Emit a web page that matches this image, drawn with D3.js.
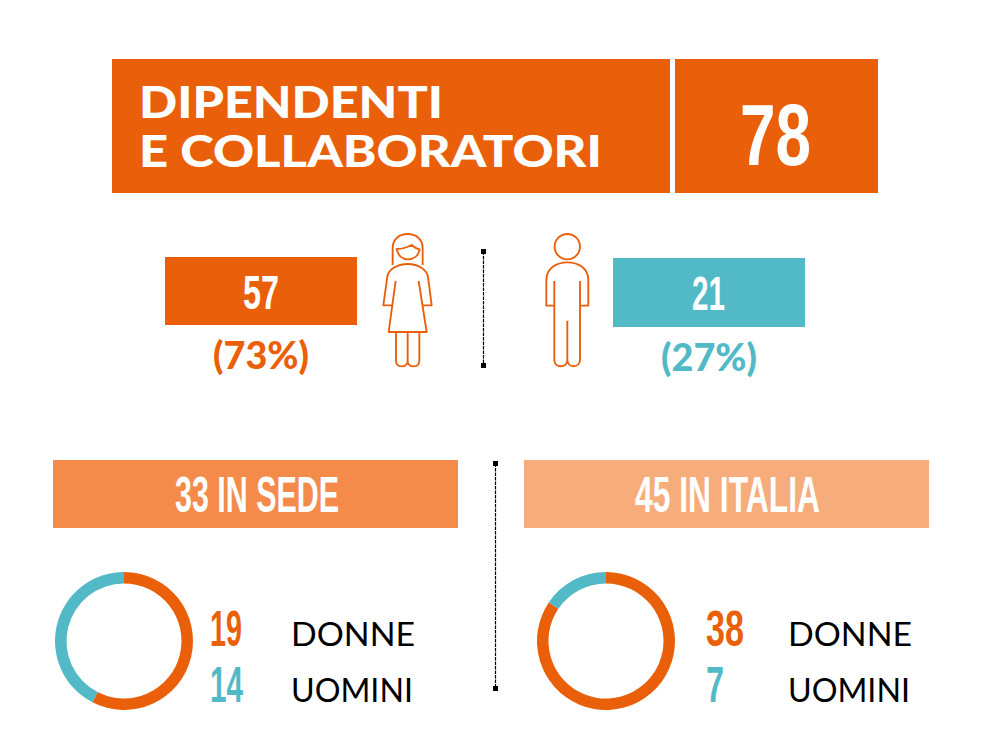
<!DOCTYPE html>
<html>
<head>
<meta charset="utf-8">
<script src="https://d3js.org/d3.v7.min.js"></script>
<style>
html,body{margin:0;padding:0;background:#fff;}
svg{display:block;}
</style>
</head>
<body>
<svg id="c" width="985" height="747"></svg>
<script>
const titleLines = ["DIPENDENTI", "E COLLABORATORI"];
const totalValue = 78;
const genderValues = [57, 21];
const genderPercents = ["(73%)", "(27%)"];
const panelLabels = ["33 IN SEDE", "45 IN ITALIA"];
const sedeValues = [19, 14];
const italiaValues = [38, 7];
const legendLabels = ["DONNE", "UOMINI"];

const ORANGE = "#EA5F0A", TEAL = "#52B9C6", BODY = "Lato, sans-serif",
      NARROW = "'Liberation Sans Narrow', 'Liberation Sans', sans-serif";
const svg = d3.select("#c");

function rect(x, y, w, h, fill) {
  svg.append("rect").attr("x", x).attr("y", y).attr("width", w).attr("height", h).attr("fill", fill);
}
function text(str, x, y, w, size, fill, family, weight) {
  svg.append("text").text(str).attr("x", x).attr("y", y)
    .attr("textLength", w).attr("lengthAdjust", "spacingAndGlyphs")
    .attr("font-family", family).attr("font-size", size)
    .attr("font-weight", weight).attr("fill", fill);
}

// Header
rect(112, 59, 558, 134, ORANGE);
rect(675, 59, 203, 134, ORANGE);
text(titleLines[0], 139, 118, 304, 44, "#fff", BODY, 900);
text(titleLines[1], 139, 167, 463, 44, "#fff", BODY, 900);
text(String(totalValue), 740, 165, 71, 88, "#fff", NARROW, 700);

// Gender bars
rect(165, 257, 192, 68, ORANGE);
rect(613, 258, 192, 69, TEAL);
text(String(genderValues[0]), 243, 309, 36, 49, "#fff", NARROW, 700);
text(String(genderValues[1]), 692, 310, 33, 49, "#fff", NARROW, 700);
text(genderPercents[0], 213, 369, 96, 37, ORANGE, BODY, 900);
text(genderPercents[1], 661, 371, 96, 37, TEAL, BODY, 900);

// Icons (drawn in 3x local units)
const icons = svg.append("g").attr("transform", "translate(370,220) scale(0.3333)")
  .attr("fill", "none").attr("stroke", ORANGE).attr("stroke-width", 5.6).attr("stroke-linejoin", "round");
[
  "M68 135V85C68 55 90 42 113 42C136 42 158 55 158 85V135",
  "M80 87C95 87 110 83 125 75C132 82 140 86 149 88C145 108 130 118 114 118C97 118 84 106 80 87Z",
  "M67 256H40L52 170C55 150 80 132 113 132C146 132 170 150 174 170L185 256H158",
  "M77 183L56 336H170L146 183",
  "M78 336V422C78 445 113 445 113 422V336M113 422C113 445 148 445 148 422V336",
  "M553 257H529V180C529 145 560 127 592 127C625 127 655 145 655 180V257H629",
  "M553 183V420C553 445 592 445 592 420V302M630 183V420C630 445 592 445 592 420"
].forEach(d => icons.append("path").attr("d", d));
icons.append("circle").attr("cx", 592).attr("cy", 80).attr("r", 38);

// Dividers
function divider(x, y0, y1) {
  svg.append("line").attr("x1", x).attr("x2", x).attr("y1", y0).attr("y2", y1)
    .attr("stroke", "#000").attr("stroke-width", 1.2).attr("stroke-dasharray", "3.5 1");
  [y0, y1].forEach(y => rect(x - 2.5, y - 2.5, 5, 5, "#000"));
}
divider(483.5, 251.5, 365.5);
divider(495.5, 463.5, 688.5);

// Panels
rect(53, 460, 405, 68, "#F48B4B");
rect(524, 460, 405, 68, "#F7AC7B");
text(panelLabels[0], 175, 512, 164, 50, "#fff", NARROW, 700);
text(panelLabels[1], 635, 512, 185, 50, "#fff", NARROW, 700);

// Donuts
const pie = d3.pie().sort(null);
const arc = d3.arc().innerRadius(57.5).outerRadius(69);
const colour = d3.scaleOrdinal().domain([0, 1]).range([ORANGE, TEAL]);
function donut(values, cx, cy) {
  svg.append("g").attr("transform", `translate(${cx},${cy})`)
    .selectAll("path").data(pie(values)).join("path")
    .attr("d", arc).attr("fill", (d, i) => colour(i));
}
donut(sedeValues, 124, 641);
donut(italiaValues, 606, 641);

// Legends
text(String(sedeValues[0]), 210, 646, 32, 50, ORANGE, NARROW, 700);
text(String(sedeValues[1]), 210, 702, 33, 50, TEAL, NARROW, 700);
text(String(italiaValues[0]), 706, 646, 38, 50, ORANGE, NARROW, 700);
text(String(italiaValues[1]), 706, 702, 18, 50, TEAL, NARROW, 700);
text(legendLabels[0], 291, 646, 124, 33.5, "#000", BODY, 400);
text(legendLabels[1], 291, 702, 122, 33.5, "#000", BODY, 400);
text(legendLabels[0], 788, 646, 124, 33.5, "#000", BODY, 400);
text(legendLabels[1], 788, 702, 122, 33.5, "#000", BODY, 400);
</script>
</body>
</html>
